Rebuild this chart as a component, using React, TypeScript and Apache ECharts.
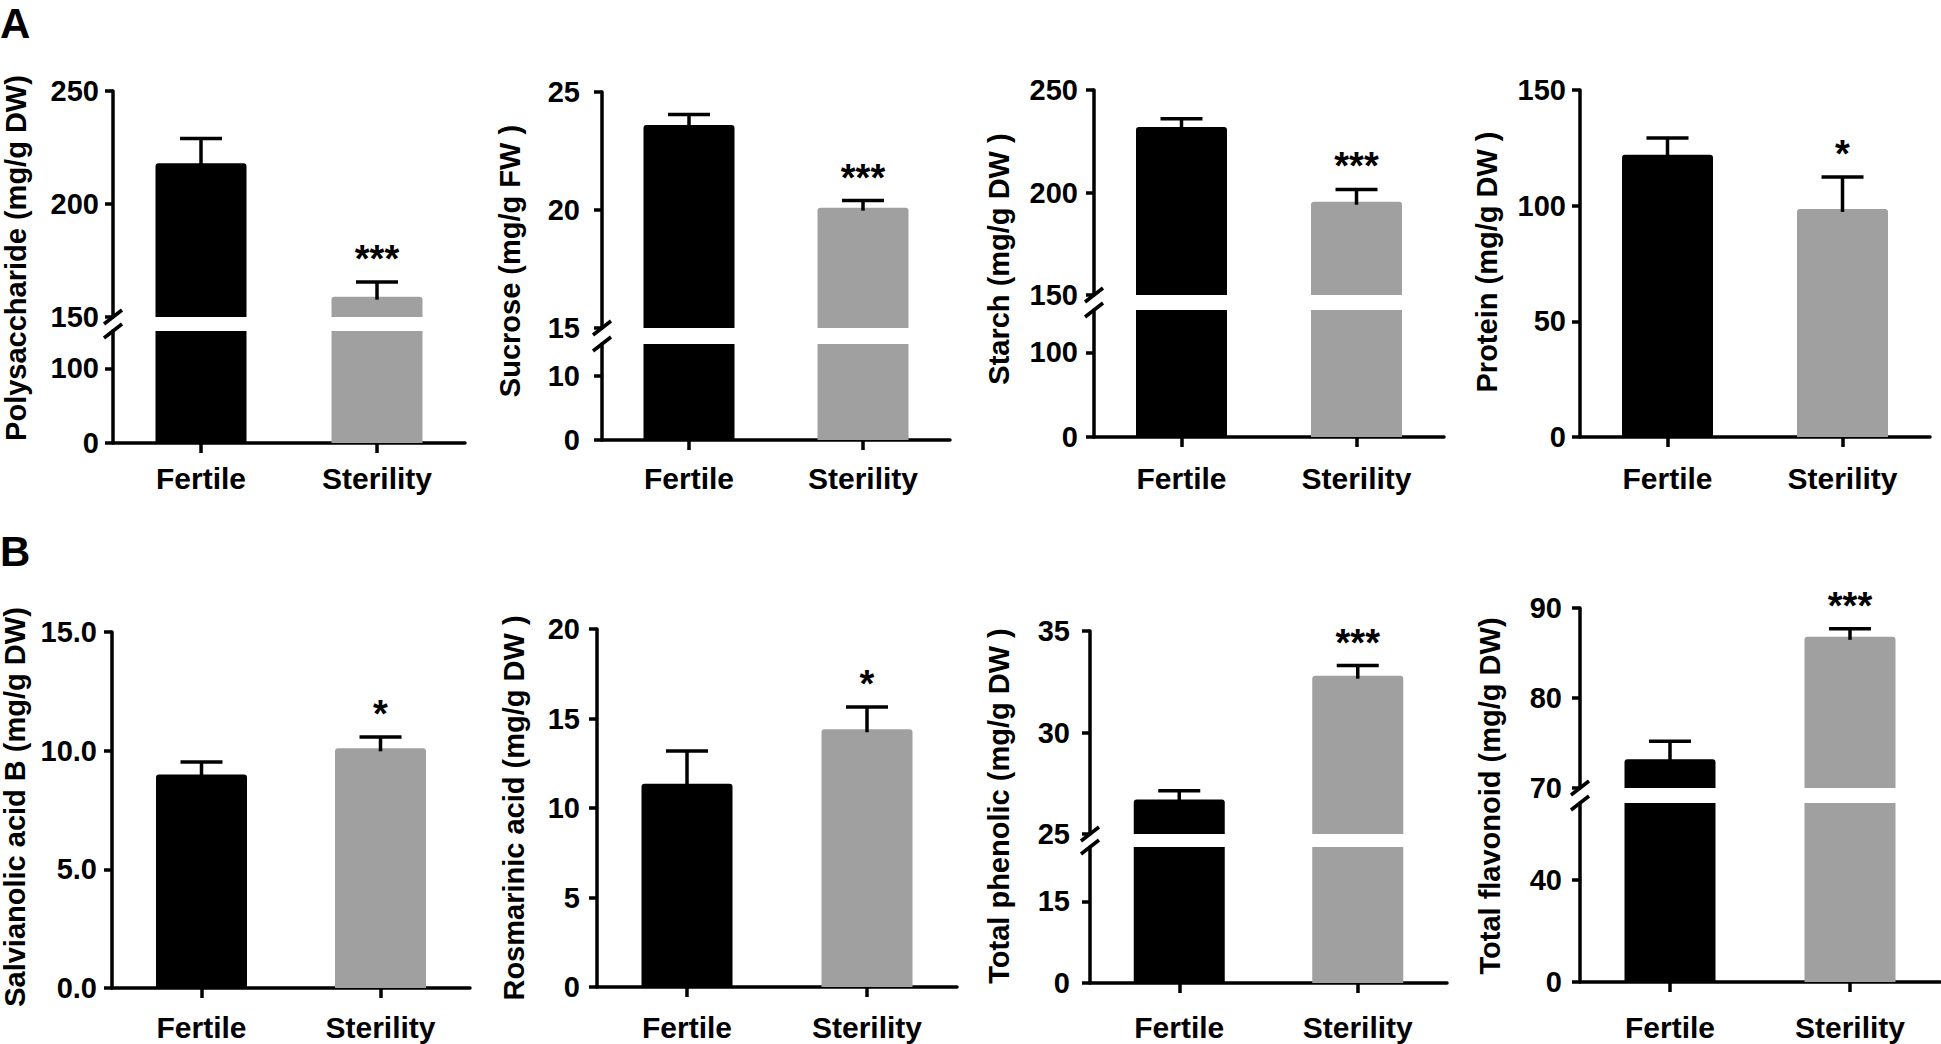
import React, { useEffect, useRef } from 'react';
import * as echarts from 'echarts';

// ---------- data ----------
const categories = ['Fertile', 'Sterility'];
const barColors = ['#000000', '#a0a0a0'];

// Panel A
const polysaccharideMean = [218, 159];
const polysaccharideErr = [11, 6.5];
const polysaccharideSig = ['', '***'];
const polysaccharideUpperTicks = [150, 200, 250];
const polysaccharideLowerTicks = [0, 100];

const sucroseMean = [23.6, 20.1];
const sucroseErr = [0.45, 0.3];
const sucroseSig = ['', '***'];
const sucroseUpperTicks = [15, 20, 25];
const sucroseLowerTicks = [0, 10];

const starchMean = [232, 195.5];
const starchErr = [4, 6];
const starchSig = ['', '***'];
const starchUpperTicks = [150, 200, 250];
const starchLowerTicks = [0, 100];

const proteinMean = [122, 98.6];
const proteinErr = [7.3, 13.8];
const proteinSig = ['', '*'];
const proteinTicks = [0, 50, 100, 150];

// Panel B
const salvianolicMean = [9.0, 10.1];
const salvianolicErr = [0.52, 0.48];
const salvianolicSig = ['', '*'];
const salvianolicTicks = [0, 5, 10, 15];

const rosmarinicMean = [11.35, 14.4];
const rosmarinicErr = [1.83, 1.24];
const rosmarinicSig = ['', '*'];
const rosmarinicTicks = [0, 5, 10, 15, 20];

const phenolicMean = [26.7, 32.8];
const phenolicErr = [0.43, 0.5];
const phenolicSig = ['', '***'];
const phenolicUpperTicks = [25, 30, 35];
const phenolicLowerTicks = [0, 15];

const flavonoidMean = [73.2, 86.8];
const flavonoidErr = [2.0, 0.9];
const flavonoidSig = ['', '***'];
const flavonoidUpperTicks = [70, 80, 90];
const flavonoidLowerTicks = [0, 40];

type Seg = { min: number; max: number; ticks: number[] };
type Panel = { title: string; mean: number[]; err: number[]; sig: string[]; segments: Seg[]; decimals: number };

const panels: Panel[] = [
  { title: 'Polysaccharide (mg/g DW)', mean: polysaccharideMean, err: polysaccharideErr, sig: polysaccharideSig, decimals: 0,
    segments: [{ min: 0, max: 150, ticks: polysaccharideLowerTicks }, { min: 150, max: 250, ticks: polysaccharideUpperTicks }] },
  { title: 'Sucrose (mg/g FW )', mean: sucroseMean, err: sucroseErr, sig: sucroseSig, decimals: 0,
    segments: [{ min: 0, max: 15, ticks: sucroseLowerTicks }, { min: 15, max: 25, ticks: sucroseUpperTicks }] },
  { title: 'Starch (mg/g DW )', mean: starchMean, err: starchErr, sig: starchSig, decimals: 0,
    segments: [{ min: 0, max: 150, ticks: starchLowerTicks }, { min: 150, max: 250, ticks: starchUpperTicks }] },
  { title: 'Protein (mg/g DW )', mean: proteinMean, err: proteinErr, sig: proteinSig, decimals: 0,
    segments: [{ min: 0, max: 150, ticks: proteinTicks }] },
  { title: 'Salvianolic acid B (mg/g DW)', mean: salvianolicMean, err: salvianolicErr, sig: salvianolicSig, decimals: 1,
    segments: [{ min: 0, max: 15, ticks: salvianolicTicks }] },
  { title: 'Rosmarinic acid (mg/g DW )', mean: rosmarinicMean, err: rosmarinicErr, sig: rosmarinicSig, decimals: 0,
    segments: [{ min: 0, max: 20, ticks: rosmarinicTicks }] },
  { title: 'Total phenolic (mg/g DW )', mean: phenolicMean, err: phenolicErr, sig: phenolicSig, decimals: 0,
    segments: [{ min: 0, max: 25, ticks: phenolicLowerTicks }, { min: 25, max: 35, ticks: phenolicUpperTicks }] },
  { title: 'Total flavonoid (mg/g DW)', mean: flavonoidMean, err: flavonoidErr, sig: flavonoidSig, decimals: 0,
    segments: [{ min: 0, max: 70, ticks: flavonoidLowerTicks }, { min: 70, max: 90, ticks: flavonoidUpperTicks }] },
];

// ---------- layout (pixels) ----------
const layouts = [
  { left: 113, right: 465, segs: [[331, 443], [91, 317]], titleX: 16, titleY: 258, yMargin: 14, xMargin: 20 },
  { left: 602, right: 950, segs: [[344, 440], [92, 328]], titleX: 510, titleY: 261, yMargin: 22, xMargin: 23 },
  { left: 1094, right: 1444, segs: [[310, 437], [90, 295]], titleX: 999, titleY: 259, yMargin: 16, xMargin: 26 },
  { left: 1580, right: 1930, segs: [[90, 437]], titleX: 1487, titleY: 262, yMargin: 14, xMargin: 26 },
  { left: 112, right: 470, segs: [[632, 988]], titleX: 15, titleY: 807, yMargin: 15, xMargin: 24 },
  { left: 597, right: 957, segs: [[629, 987]], titleX: 514, titleY: 808, yMargin: 17, xMargin: 25 },
  { left: 1090, right: 1447, segs: [[847, 983], [631, 834]], titleX: 999, titleY: 806, yMargin: 20, xMargin: 29 },
  { left: 1580, right: 1940, segs: [[803, 982], [608, 788]], titleX: 1490, titleY: 796, yMargin: 18, xMargin: 30 },
];

const FONT = '"Liberation Sans", Arial, Helvetica, sans-serif';
const LINE = 3.5;
const BLACK = '#000000';

function textStyle(text: string, size: number, align = 'center', vAlign = 'middle') {
  return {
    text,
    fill: BLACK,
    font: `bold ${size}px ${FONT}`,
    textAlign: align,
    textVerticalAlign: vAlign,
    align,
    verticalAlign: vAlign,
  };
}

function buildOption() {
  const grid: any[] = [];
  const xAxis: any[] = [];
  const yAxis: any[] = [];
  const series: any[] = [];
  const graphic: any[] = [];

  panels.forEach((p, pi) => {
    const L = layouts[pi];
    p.segments.forEach((seg, si) => {
      const [top, bottom] = L.segs[si];
      const gi = grid.length;
      const isBottom = si === 0;
      const isTop = si === p.segments.length - 1;
      grid.push({
        left: L.left,
        top,
        width: L.right - L.left,
        height: bottom - top,
        containLabel: false,
        outerBoundsMode: 'none',
      });
      xAxis.push({
        type: 'category',
        gridIndex: gi,
        data: categories,
        boundaryGap: true,
        show: isBottom,
        axisLine: { show: isBottom, onZero: false, lineStyle: { color: BLACK, width: LINE } },
        axisTick: { show: isBottom, alignWithLabel: true, interval: 0, length: 10, lineStyle: { color: BLACK, width: LINE } },
        axisLabel: {
          show: isBottom, interval: 0, color: BLACK, fontSize: 30, fontWeight: 'bold', fontFamily: FONT, margin: L.xMargin,
        },
        splitLine: { show: false },
      });
      yAxis.push({
        type: 'value',
        gridIndex: gi,
        min: seg.min,
        max: seg.max,
        axisLine: { show: true, onZero: false, lineStyle: { color: BLACK, width: LINE } },
        axisTick: { show: true, customValues: seg.ticks, length: 8, lineStyle: { color: BLACK, width: LINE } },
        axisLabel: {
          show: true,
          customValues: seg.ticks,
          formatter: (v: number) => v.toFixed(p.decimals),
          color: BLACK,
          fontSize: 29,
          fontWeight: 'bold',
          fontFamily: FONT,
          margin: L.yMargin,
        },
        splitLine: { show: false },
      });
      series.push({
        type: 'bar',
        xAxisIndex: gi,
        yAxisIndex: gi,
        barWidth: 91,
        clip: true,
        silent: true,
        data: p.mean.map((v, i) => ({
          value: v,
          itemStyle: { color: barColors[i], borderRadius: isTop ? [3, 3, 0, 0] : 0 },
        })),
      });
      if (isTop) {
        const sigs = p.sig;
        series.push({
          type: 'custom',
          xAxisIndex: gi,
          yAxisIndex: gi,
          silent: true,
          clip: false,
          z: 5,
          data: p.mean.map((m, i) => [i, m, p.err[i]]),
          renderItem: (params: any, api: any) => {
            const i = api.value(0);
            const m = api.value(1);
            const e = api.value(2);
            const b = api.coord([i, m]);
            const t = api.coord([i, m + e]);
            const children: any[] = [
              { type: 'line', shape: { x1: t[0], y1: b[1] + 3, x2: t[0], y2: t[1] }, style: { stroke: BLACK, lineWidth: LINE } },
              { type: 'line', shape: { x1: t[0] - 21, y1: t[1], x2: t[0] + 21, y2: t[1] }, style: { stroke: BLACK, lineWidth: LINE } },
            ];
            const s = sigs[params.dataIndex];
            if (s) {
              children.push({ type: 'text', x: t[0], y: t[1] - 23, style: textStyle(s, 38) });
            }
            return { type: 'group', children };
          },
        });
      }
    });

    // axis break marks
    if (p.segments.length > 1) {
      const ys = [L.segs[0][0], L.segs[1][1]];
      ys.forEach((y) => {
        graphic.push({
          type: 'line',
          silent: true,
          shape: { x1: L.left - 9, y1: y + 7, x2: L.left + 9, y2: y - 7 },
          style: { stroke: BLACK, lineWidth: LINE },
        });
      });
    }

    // y-axis title
    graphic.push({
      type: 'text',
      silent: true,
      x: L.titleX,
      y: L.titleY,
      rotation: Math.PI / 2,
      style: textStyle(p.title, 29),
    });
  });

  graphic.push({ type: 'text', silent: true, x: 0, y: 23, style: textStyle('A', 42, 'left') });
  graphic.push({ type: 'text', silent: true, x: 0, y: 551, style: textStyle('B', 42, 'left') });

  return {
    animation: false,
    backgroundColor: '#ffffff',
    textStyle: { fontFamily: FONT },
    grid,
    xAxis,
    yAxis,
    series,
    graphic,
  };
}

export default function App() {
  const ref = useRef<HTMLDivElement>(null);
  useEffect(() => {
    const chart = echarts.init(ref.current as HTMLDivElement, null, { renderer: 'svg' });
    chart.setOption(buildOption() as any);
    return () => chart.dispose();
  }, []);
  return (
    <div
      ref={ref}
      style={{ position: 'absolute', left: 0, top: 0, width: 1941, height: 1044, background: '#ffffff' }}
    />
  );
}
